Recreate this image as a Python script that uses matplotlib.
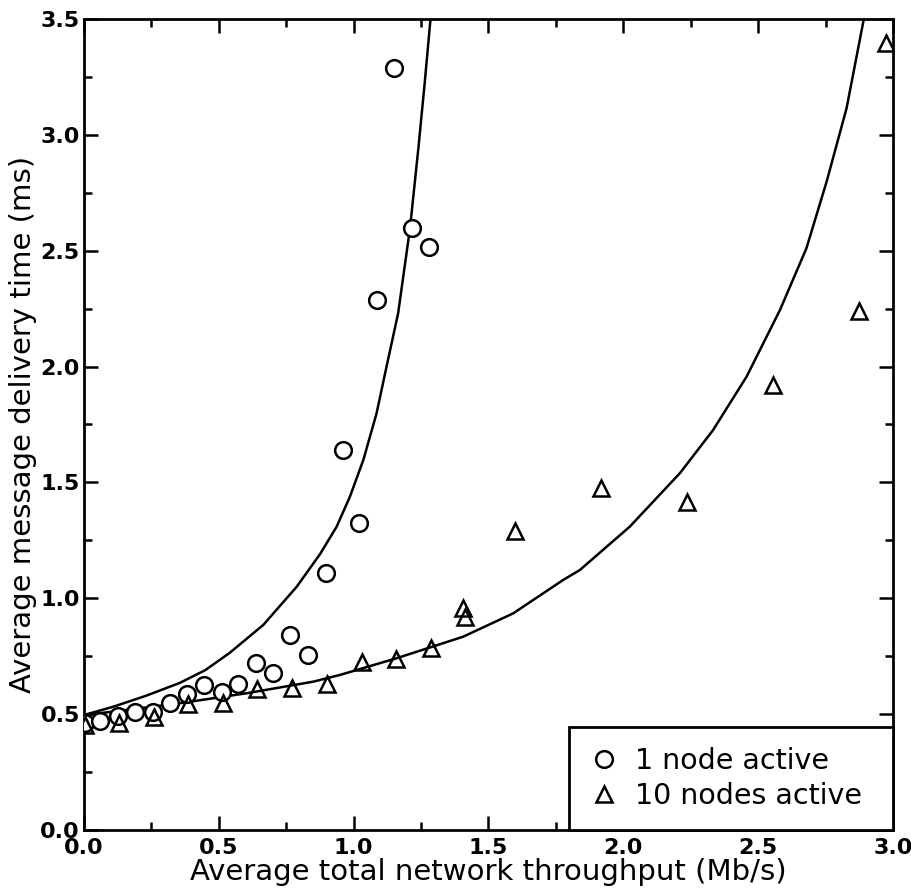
import numpy as np
import matplotlib.pyplot as plt
from matplotlib.ticker import MultipleLocator

# 1 node active (circles)
x_one = [0.004, 0.059, 0.127, 0.189, 0.257, 0.319, 0.381, 0.446, 0.510, 0.572,
         0.638, 0.702, 0.764, 0.829, 0.896, 0.961, 1.020, 1.085, 1.149, 1.215, 1.279]
y_one = [0.46, 0.47, 0.49, 0.51, 0.51, 0.547, 0.587, 0.626, 0.597, 0.63,
         0.722, 0.679, 0.842, 0.755, 1.108, 1.64, 1.324, 2.287, 3.29, 2.60, 2.517]

# 10 nodes active (triangles)
x_ten = [0.004, 0.131, 0.26, 0.387, 0.514, 0.643, 0.77, 0.90, 1.03, 1.157,
         1.285, 1.406, 1.413, 1.598, 1.917, 2.237, 2.556, 2.875, 2.976]
y_ten = [0.453, 0.463, 0.486, 0.542, 0.547, 0.607, 0.611, 0.63, 0.727, 0.738,
         0.784, 0.957, 0.918, 1.292, 1.475, 1.414, 1.921, 2.241, 3.395]

# model curves
cx_one = [0.0, 0.109, 0.232, 0.356, 0.45, 0.541, 0.665, 0.789, 0.875, 0.937, 0.986,
          1.036, 1.085, 1.122, 1.165, 1.209, 1.240, 1.264, 1.285]
cy_one = [0.496, 0.532, 0.58, 0.635, 0.69, 0.765, 0.885, 1.05, 1.19, 1.309, 1.438,
          1.597, 1.798, 2.0, 2.23, 2.597, 2.942, 3.23, 3.5]

cx_ten = [0.0, 0.109, 0.356, 0.603, 0.85, 0.949, 1.159, 1.406, 1.592, 1.777, 1.839,
          2.024, 2.21, 2.333, 2.457, 2.581, 2.679, 2.754, 2.828, 2.892]
cy_ten = [0.496, 0.511, 0.547, 0.59, 0.64, 0.669, 0.741, 0.834, 0.935, 1.079, 1.122,
          1.309, 1.54, 1.726, 1.956, 2.244, 2.51, 2.798, 3.115, 3.5]

plt.rcParams['font.family'] = ['DejaVu Sans']

fig = plt.figure(figsize=(9.11, 8.91), dpi=100)
ax = fig.add_axes([0.0922, 0.0685, 0.888, 0.9102])

ax.plot(cx_one, cy_one, color='black', lw=1.8)
ax.plot(cx_ten, cy_ten, color='black', lw=1.8)

ax.plot(x_one, y_one, 'o', ms=12, mfc='white', mec='black', mew=1.8,
        label='1 node active', zorder=3)
ax.plot(x_ten, y_ten, '^', ms=11, mfc='none', mec='black', mew=1.8,
        label='10 nodes active', zorder=3)

ax.set_xlim(0, 3.0)
ax.set_ylim(0, 3.5)
ax.xaxis.set_major_locator(MultipleLocator(0.5))
ax.xaxis.set_minor_locator(MultipleLocator(0.25))
ax.yaxis.set_major_locator(MultipleLocator(0.5))
ax.yaxis.set_minor_locator(MultipleLocator(0.25))
ax.xaxis.set_major_formatter(plt.FormatStrFormatter('%.1f'))
ax.yaxis.set_major_formatter(plt.FormatStrFormatter('%.1f'))

ax.tick_params(which='both', direction='in', top=True, right=True, width=1.8)
ax.tick_params(which='major', length=10, labelsize=16)
ax.tick_params(axis='x', which='major', pad=6)
ax.tick_params(axis='y', which='major', pad=3)
ax.tick_params(which='minor', length=6)
for lab in ax.get_xticklabels() + ax.get_yticklabels():
    lab.set_fontweight('bold')
for s in ax.spines.values():
    s.set_linewidth(2)

ax.set_xlabel('Average total network throughput (Mb/s)', fontsize=21, labelpad=0)
ax.set_ylabel('Average message delivery time (ms)', fontsize=21, labelpad=2)

leg = ax.legend(loc='lower left', bbox_to_anchor=(0.6, 0.0, 0.4, 0.127), mode='expand',
                fontsize=20.5, frameon=True, fancybox=False, borderpad=0.7,
                labelspacing=0.25, handlelength=1.0, handletextpad=0.6,
                borderaxespad=0, framealpha=1)
leg.get_frame().set_edgecolor('black')
leg.get_frame().set_linewidth(2)

fig.savefig('out.png', dpi=100)
